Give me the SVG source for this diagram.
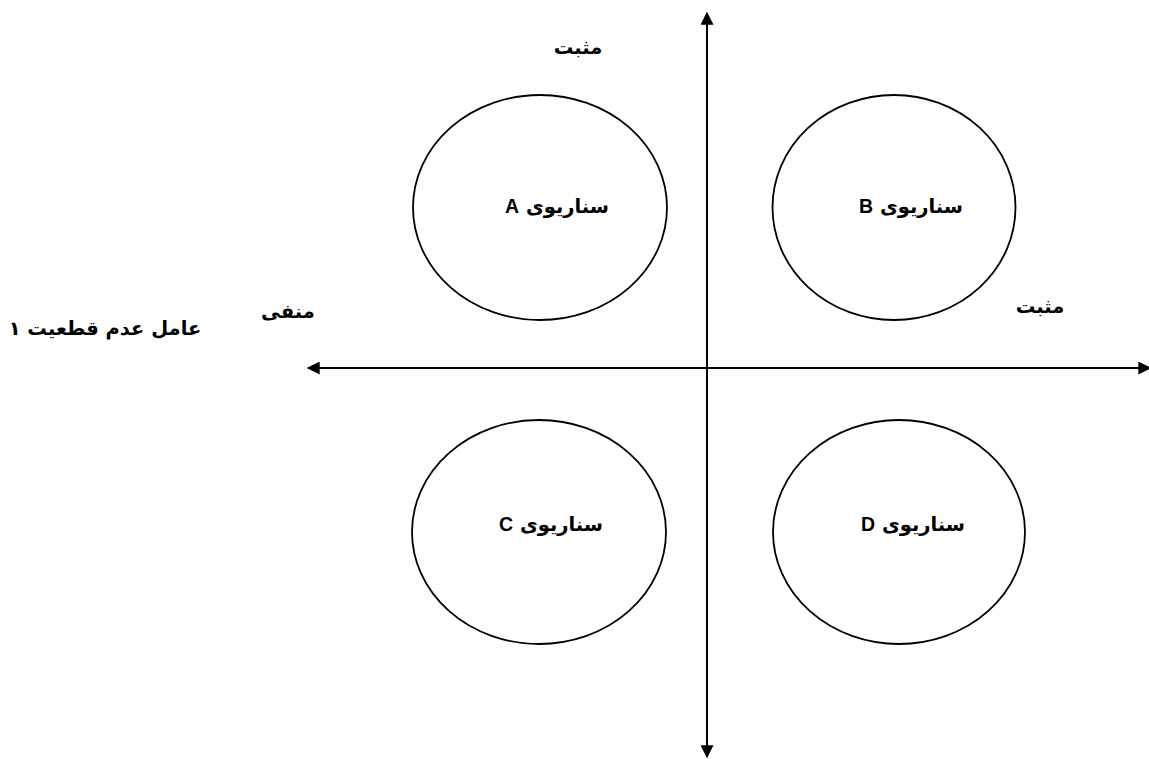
<svg xmlns="http://www.w3.org/2000/svg" width="1149" height="759" viewBox="0 0 1149 759">
<style>
.ell{fill:none;stroke:#000;stroke-width:1.8}
.ax{stroke:#000;stroke-width:2;fill:none}
.t{font-family:"DejaVu Sans","Noto Sans",sans-serif;font-weight:bold;font-size:19.5px;fill:#000;text-anchor:middle}
.lat{font-family:"Liberation Sans",Arial,sans-serif;font-weight:bold;font-size:19.5px}
</style>
<defs>
<marker id="ah" viewBox="0 0 10 10" refX="9" refY="5" markerWidth="8" markerHeight="6.5" orient="auto-start-reverse" markerUnits="strokeWidth">
<path d="M0,0 L10,5 L0,10 z" fill="#000"/>
</marker>
</defs>
<rect width="1149" height="759" fill="#fff"/>
<g id="connectors">
<line class="ax" x1="707" y1="13" x2="707" y2="757" marker-start="url(#ah)" marker-end="url(#ah)"/>
<line class="ax" x1="308" y1="368" x2="1150" y2="368" marker-start="url(#ah)" marker-end="url(#ah)"/>
</g>
<g id="nodeA"><ellipse class="ell" cx="540" cy="207.5" rx="127" ry="112.5"/><text class="t" x="557" y="213"><tspan class="lat">A</tspan> سناریوی</text></g>
<g id="nodeB"><ellipse class="ell" cx="894" cy="207.5" rx="121.5" ry="112.5"/><text class="t" x="911" y="213"><tspan class="lat">B</tspan> سناریوی</text></g>
<g id="nodeC"><ellipse class="ell" cx="539" cy="532" rx="127" ry="112"/><text class="t" x="551" y="531"><tspan class="lat">C</tspan> سناریوی</text></g>
<g id="nodeD"><ellipse class="ell" cx="899" cy="532" rx="126" ry="112"/><text class="t" x="913" y="531"><tspan class="lat">D</tspan> سناریوی</text></g>
<g id="labels">
<text class="t" x="578" y="54">مثبت</text>
<text class="t" x="288" y="318">منفی</text>
<text class="t" x="1040" y="313">مثبت</text>
<text class="t" x="105" y="335">عامل عدم قطعیت ۱</text>
</g>
</svg>
